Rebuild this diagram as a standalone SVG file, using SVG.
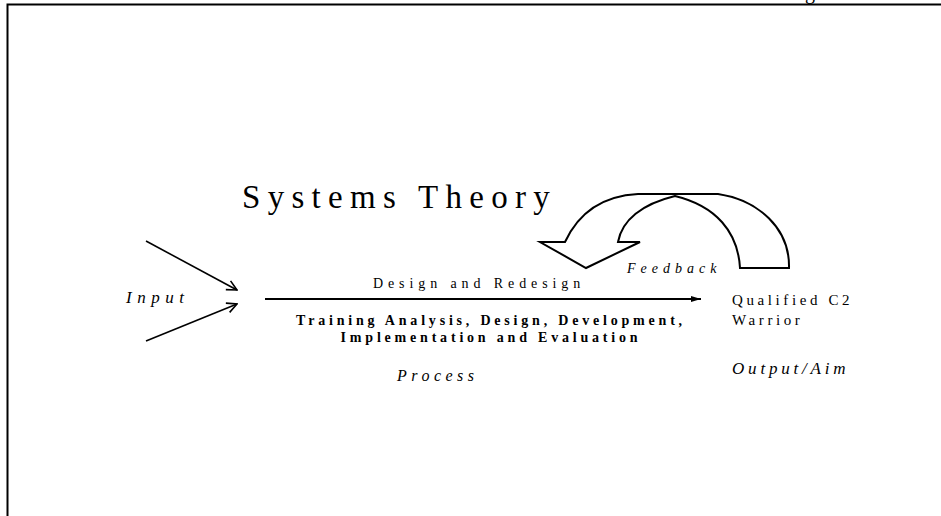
<svg xmlns="http://www.w3.org/2000/svg" width="941" height="516" viewBox="0 0 941 516">
<style>
  .t { font-family: "Liberation Serif", "Times New Roman", serif; fill: #000; }
  .it { font-style: italic; }
  .b { font-weight: bold; }
  .ln { stroke: #000; stroke-width: 1.6; fill: none; }
</style>
<defs>
  <marker id="open" viewBox="0 0 12 12" refX="11" refY="6" markerWidth="12" markerHeight="12" markerUnits="userSpaceOnUse" orient="auto">
    <path d="M1,1 L11,6 L1,11" fill="none" stroke="#000" stroke-width="1.6"/>
  </marker>
  <marker id="solid" viewBox="0 0 10 6" refX="10" refY="3" markerWidth="10" markerHeight="6" markerUnits="userSpaceOnUse" orient="auto">
    <path d="M0,0 L10,3 L0,6 Z" fill="#000"/>
  </marker>
</defs>
<rect width="941" height="516" fill="#fff"/>
<g id="frame">
  <path d="M7.5,516 L7.5,4.5 L941,4.5" fill="none" stroke="#000" stroke-width="2"/>
  <text class="t" x="805" y="-1" font-size="20">g</text>
</g>
<g id="title">
  <text class="t" x="242" y="208" font-size="33" letter-spacing="7.3">Systems Theory</text>
</g>
<g id="input">
  <text class="t it" x="126" y="303" font-size="17" letter-spacing="5.5">Input</text>
</g>
<g id="process">
  <text class="t" x="373" y="288" font-size="14" letter-spacing="4.9">Design and Redesign</text>
  <text class="t b" x="491" y="325" font-size="14" letter-spacing="3.8" text-anchor="middle">Training Analysis, Design, Development,</text>
  <text class="t b" x="491" y="342" font-size="14" letter-spacing="3.8" text-anchor="middle">Implementation and Evaluation</text>
  <text class="t it" x="397" y="381" font-size="16" letter-spacing="4.5">Process</text>
</g>
<g id="output">
  <text class="t" x="732" y="305" font-size="15" letter-spacing="3.6">Qualified C2</text>
  <text class="t" x="732" y="325" font-size="15" letter-spacing="3.6">Warrior</text>
  <text class="t it" x="732" y="374" font-size="17" letter-spacing="3.8">Output/Aim</text>
</g>
<g id="feedback">
  <path d="M565,242 C578,214 600,196 638,194 L718,194 C758,200 790,228 789,268 L740,268 C738,232 716,206 675,196 C642,204 622,220 618,242 L640,242 L586,268 L540,242 Z" fill="#fff" stroke="#000" stroke-width="2" stroke-linejoin="miter"/>
  <text class="t it" x="627" y="273" font-size="14" letter-spacing="5">Feedback</text>
</g>
<g id="connectors">
  <line class="ln" x1="146" y1="241" x2="237" y2="290" marker-end="url(#open)"/>
  <line class="ln" x1="146" y1="341" x2="237" y2="304" marker-end="url(#open)"/>
  <line x1="265" y1="299" x2="701" y2="299" stroke="#000" stroke-width="2" marker-end="url(#solid)"/>
</g>
</svg>
